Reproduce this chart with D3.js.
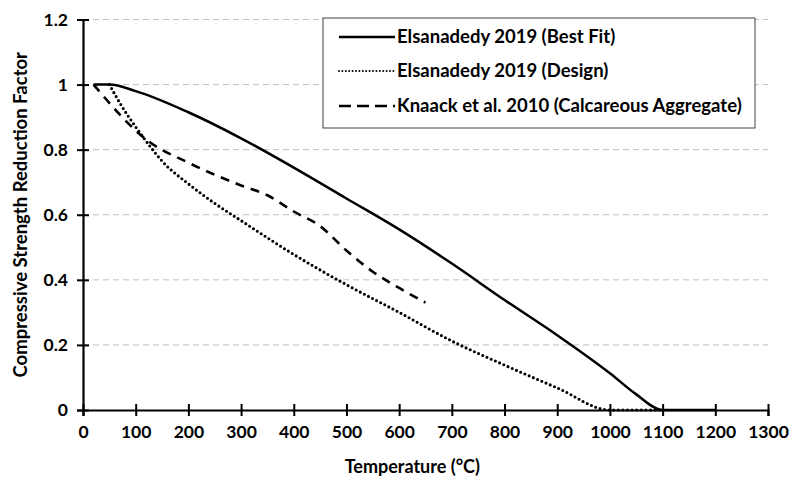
<!DOCTYPE html>
<html>
<head>
<meta charset="utf-8">
<script src="https://cdn.jsdelivr.net/npm/d3@7"></script>
<style>
  body { margin: 0; background: #fff; }
  text { font-family: Lato, "Open Sans", sans-serif; font-weight: bold; fill: #000; }
</style>
</head>
<body>
<svg id="chart" width="794" height="479"></svg>
<script>
// data
const best_fit_temp = [20, 50, 100, 200, 300, 400, 500, 600, 700, 800, 900, 1000, 1050, 1100, 1200];
const best_fit_val  = [1, 1, 0.98, 0.915, 0.835, 0.745, 0.65, 0.555, 0.45, 0.338, 0.23, 0.113, 0.048, 0, 0];

const design_temp = [50, 75, 100, 125, 150, 200, 250, 300, 400, 500, 600, 700, 800, 900, 1000, 1100];
const design_val  = [1, 0.93, 0.87, 0.815, 0.765, 0.695, 0.635, 0.582, 0.478, 0.385, 0.3, 0.212, 0.138, 0.068, 0, 0];

const knaack_temp = [20, 125, 200, 300, 350, 400, 450, 500, 550, 600, 650];
const knaack_val  = [1, 0.825, 0.76, 0.69, 0.66, 0.61, 0.565, 0.49, 0.425, 0.375, 0.33];

const series_names = ["Elsanadedy 2019 (Best Fit)", "Elsanadedy 2019 (Design)", "Knaack et al. 2010 (Calcareous Aggregate)"];
const x_ticks = d3.range(0, 1301, 100);
const y_ticks = [0, 0.2, 0.4, 0.6, 0.8, 1, 1.2];

const margin = {left: 83, right: 26, top: 19.5, bottom: 69};
const width = 794, height = 479;
const innerWidth = width - margin.left - margin.right;
const innerHeight = height - margin.top - margin.bottom;

const svg = d3.select("#chart");
const g = svg.append("g").attr("transform", `translate(${margin.left}, ${margin.top})`);

const xScale = d3.scaleLinear().domain([0, 1300]).range([0, innerWidth]);
const yScale = d3.scaleLinear().domain([0, 1.2]).range([innerHeight, 0]);

// gridlines
g.selectAll(".grid")
 .data(y_ticks.filter(d => d > 0))
 .enter().append("line")
    .attr("x1", 0).attr("x2", innerWidth)
    .attr("y1", d => yScale(d)).attr("y2", d => yScale(d))
    .attr("stroke", "#c0c0c0")
    .attr("stroke-width", 1)
    .attr("stroke-dasharray", "6,4");

const styles = [
  {dash: null, width: 2.5, cap: "butt"},
  {dash: "0,4.6", width: 3.1, cap: "round"},
  {dash: "9,7", width: 2.6, cap: "butt"}
];

const series = [
  best_fit_temp.map((t, i) => ({t, v: best_fit_val[i]})),
  design_temp.map((t, i) => ({t, v: design_val[i]})),
  knaack_temp.map((t, i) => ({t, v: knaack_val[i]}))
];

const line = d3.line()
  .x(d => xScale(d.t))
  .y(d => yScale(d.v))
  .curve(d3.curveMonotoneX);

series.forEach((s, i) => {
  g.append("path")
   .datum(s)
   .attr("d", line)
   .attr("fill", "none")
   .attr("stroke", "#000")
   .attr("stroke-width", styles[i].width)
   .attr("stroke-linecap", styles[i].cap)
   .attr("stroke-dasharray", styles[i].dash);
});

// axes
const xAxis = d3.axisBottom(xScale).tickValues(x_ticks).tickSize(6).tickFormat(d3.format("d"));
const yAxis = d3.axisLeft(yScale).tickValues(y_ticks).tickSize(6).tickFormat(d => d);

const gx = g.append("g")
  .attr("transform", `translate(0, ${innerHeight})`)
  .call(xAxis);
const gy = g.append("g").call(yAxis);

[gx, gy].forEach(a => {
  a.select(".domain").attr("stroke", "#000").attr("stroke-width", 2.2);
  a.selectAll(".tick line").attr("stroke", "#000").attr("stroke-width", 2);
  a.selectAll(".tick text").style("font-size", "17.5px").style("font-family", "Lato, sans-serif");
});
gx.selectAll(".tick line").attr("y1", -6).attr("y2", 6);
gx.selectAll(".tick text").attr("y", 16);
gy.selectAll(".tick line").attr("x1", -6).attr("x2", 6);
gy.selectAll(".tick text").attr("x", -15);

// axis titles
svg.append("text")
   .attr("x", margin.left + xScale(625))
   .attr("y", 473)
   .attr("text-anchor", "middle")
   .style("font-size", "18px")
   .text("Temperature (°C)");

svg.append("text")
   .attr("transform", `translate(27, ${margin.top + innerHeight / 2}) rotate(-90)`)
   .attr("text-anchor", "middle")
   .style("font-size", "18.5px")
   .text("Compressive Strength Reduction Factor");

// legend
const legend = svg.append("g").attr("transform", "translate(323, 18)");
legend.append("rect")
  .attr("width", 432).attr("height", 110)
  .attr("fill", "#fff")
  .attr("stroke", "#404040")
  .attr("stroke-width", 1);

const rows = [19, 53, 88];
series_names.forEach((name, i) => {
  legend.append("line")
    .attr("x1", 16).attr("x2", 72)
    .attr("y1", rows[i]).attr("y2", rows[i])
    .attr("stroke", "#000")
    .attr("stroke-linecap", styles[i].cap)
    .attr("stroke-dasharray", i === 1 ? "0,3.4" : (i === 2 ? "12,6" : null))
    .attr("stroke-width", i === 1 ? 2 : 2.6);
  legend.append("text")
    .attr("x", 74)
    .attr("y", rows[i])
    .attr("dy", "0.35em")
    .style("font-size", "18.5px")
    .text(name);
});
</script>
</body>
</html>
